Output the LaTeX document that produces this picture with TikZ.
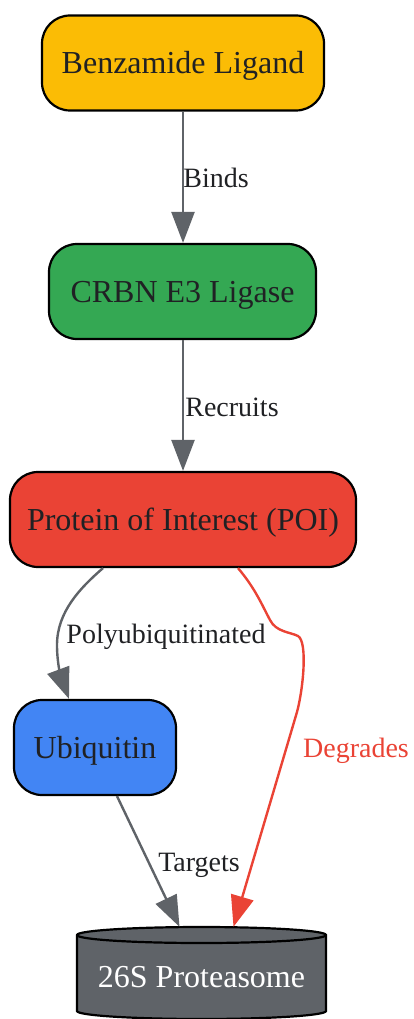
\documentclass[tikz,border=0pt]{standalone}
\usepackage{fontspec}
\setmainfont{Liberation Serif}
\usetikzlibrary{arrows.meta}
\definecolor{gyellow}{HTML}{FBBC05}
\definecolor{ggreen}{HTML}{34A853}
\definecolor{gred}{HTML}{EA4335}
\definecolor{gblue}{HTML}{4285F4}
\definecolor{ggray}{HTML}{5F6368}
\definecolor{gtext}{HTML}{202124}
\tikzset{
  box/.style={draw=black, line width=2.2pt, rounded corners=28pt, minimum height=95pt,
    text=gtext, font=\fontsize{32}{38}\selectfont, text height=21.5pt, text depth=0pt, inner sep=0pt},
  edge/.style={draw=ggray, line width=2.4pt, -{Triangle[length=31pt,width=23pt]}},
  redge/.style={draw=gred, line width=2.4pt, -{Triangle[length=31pt,width=23pt]}},
  elabel/.style={anchor=base, text=gtext, font=\fontsize{28}{33}\selectfont, inner sep=0pt},
}
\begin{document}
\begin{tikzpicture}[x=1pt,y=1pt]
\useasboundingbox (0,0) rectangle (414,-1019);
% nodes
\node[box, fill=gyellow, minimum width=282pt] (lig) at (183,-63) {Benzamide Ligand};
\node[box, fill=ggreen, minimum width=267pt] (crbn) at (182.5,-291.5) {CRBN E3 Ligase};
\node[box, fill=gred, minimum width=346pt] (poi) at (183,-519.5) {Protein of Interest (POI)};
\node[box, fill=gblue, minimum width=162pt] (ubi) at (95,-747.5) {Ubiquitin};
% cylinder
\path[fill=ggray, draw=black, line width=2.2pt] (77,-935) -- (77,-1011)
  arc[start angle=180, end angle=360, x radius=124.5, y radius=8] -- (326,-935)
  arc[start angle=0, end angle=180, x radius=124.5, y radius=8] -- cycle;
\draw[black, line width=2.2pt] (77,-935) arc[start angle=180, end angle=360, x radius=124.5, y radius=8];
\node[minimum width=249pt, minimum height=92pt, inner sep=0pt, text=white,
  font=\fontsize{32}{38}\selectfont, text height=28pt, text depth=0pt] (prot) at (201.5,-973) {26S Proteasome};
% edges
\draw[edge] (lig.south) -- (lig.south |- crbn.north);
\draw[edge] (crbn.south -| lig.south) -- (lig.south |- poi.north);
\draw[edge] ([xshift=-80pt]poi.south) .. controls (80,-588) and (57,-612) .. (57,-645)
  .. controls (57,-665) and (62,-680) .. ([xshift=-26pt]ubi.north);
\draw[redge] ([xshift=55pt]poi.south) .. controls (255,-588) and (262,-605) .. (270,-620)
  .. controls (276,-632) and (290,-632) .. (298,-636)
  .. controls (308,-642) and (303,-690) .. (297,-712) -- ([xshift=32pt]prot.north);
\draw[edge] ([xshift=22pt]ubi.south) -- ([xshift=-22pt]prot.north);
% edge labels
\node[elabel] (lb1) at (216,-187) {Binds};
\node[elabel] (lb2) at (232,-416) {Recruits};
\node[elabel] (lb3) at (166,-643) {Polyubiquitinated};
\node[elabel, text=gred] (lb4) at (356,-757) {Degrades};
\node[elabel] (lb5) at (199,-871) {Targets};
\end{tikzpicture}
\end{document}
